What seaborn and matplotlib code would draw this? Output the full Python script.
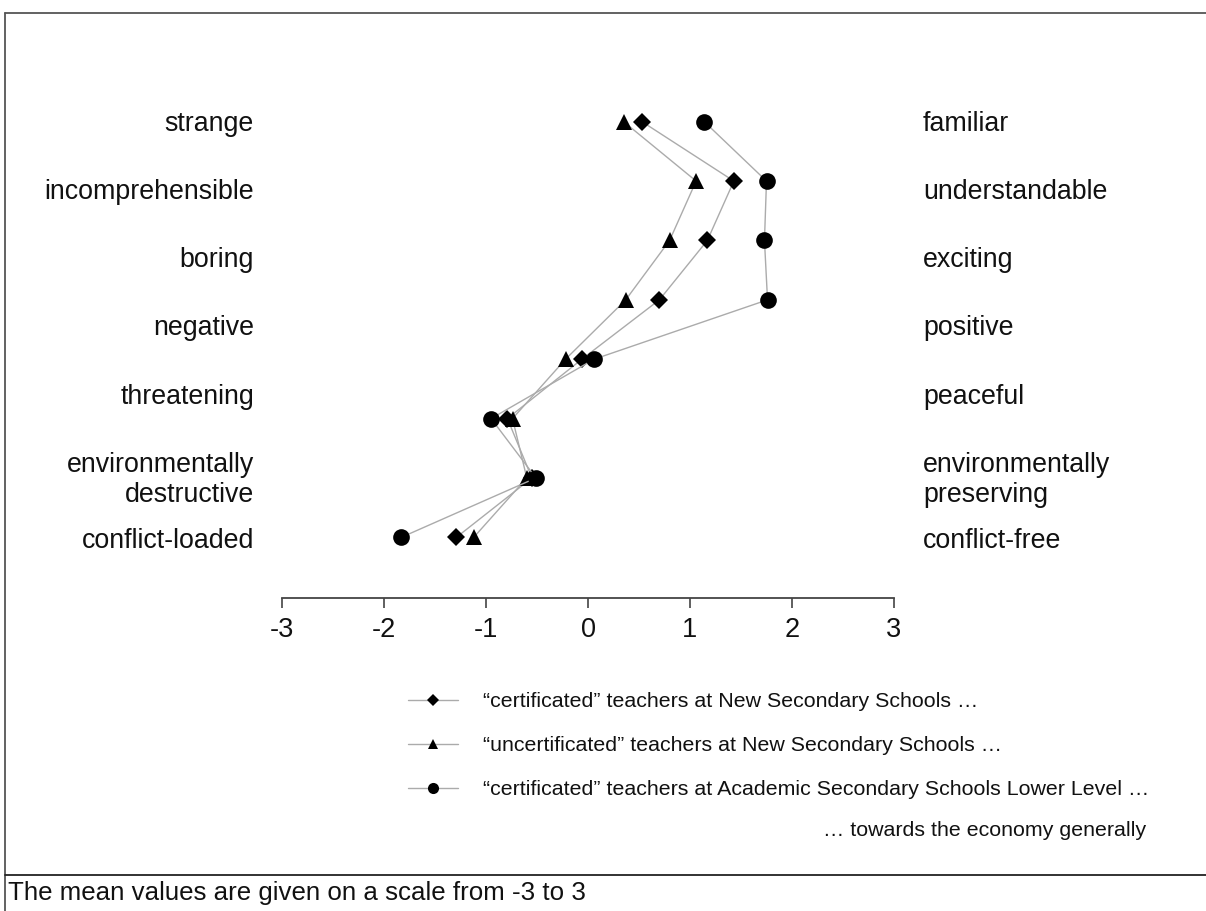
import matplotlib
matplotlib.use("Agg")
import matplotlib.pyplot as plt
from matplotlib.lines import Line2D
import seaborn as sns
import numpy as np

# ---------------- data ----------------
rows = [0, 1, 2, 3, 4, 5, 6, 7]  # 8 plotted items (top to bottom)
cert_nss = [0.53, 1.43, 1.17, 0.70, -0.06, -0.79, -0.55, -1.29]
uncert_nss = [0.35, 1.06, 0.80, 0.37, -0.22, -0.74, -0.60, -1.12]
cert_ass = [1.14, 1.75, 1.73, 1.76, 0.06, -0.95, -0.51, -1.83]

series_labels = [
    "\u201ccertificated\u201d teachers at New Secondary Schools \u2026",
    "\u201cuncertificated\u201d teachers at New Secondary Schools \u2026",
    "\u201ccertificated\u201d teachers at Academic Secondary Schools Lower Level \u2026",
]
left_labels = ["strange", "incomprehensible", "boring", "negative", "threatening",
               "environmentally\ndestructive", "conflict-loaded"]
right_labels = ["familiar", "understandable", "exciting", "positive", "peaceful",
                "environmentally\npreserving", "conflict-free"]
ticks = [-3, -2, -1, 0, 1, 2, 3]
tick_labels = ["-3", "-2", "-1", "0", "1", "2", "3"]
footer_note = "\u2026 towards the economy generally"
caption = "The mean values are given on a scale from -3 to 3"

# ---------------- style ----------------
sns.set_theme(style="white")
plt.rcParams['font.family'] = ['Liberation Sans', 'DejaVu Sans']
plt.rcParams['axes.unicode_minus'] = False

W, H = 1206, 911
fig = plt.figure(figsize=(W / 100, H / 100), dpi=100)
fig.patch.set_facecolor("white")

ax = fig.add_axes([282 / W, 1 - 598 / H, 612 / W, 508 / H])
ax.patch.set_alpha(0)

line_col = "#ababab"
specs = [(cert_nss, "D", 9.5), (uncert_nss, "^", 11.5), (cert_ass, "o", 12)]
for vals, mk, ms in specs:
    sns.lineplot(x=vals, y=rows, sort=False, estimator=None, ax=ax, legend=False,
                 color=line_col, linewidth=1.0, marker=mk, markersize=ms,
                 markerfacecolor="black", markeredgecolor="black",
                 markeredgewidth=0, clip_on=False)

ax.set_xlim(-3, 3)
ax.set_ylim(8.022, -0.534)
ax.set_xticks(ticks)
ax.set_xticklabels(tick_labels)
ax.set_yticks([])
ax.set_xlabel("")
ax.set_ylabel("")
for s in ["top", "right", "left"]:
    ax.spines[s].set_visible(False)
ax.spines["bottom"].set_color("#444444")
ax.spines["bottom"].set_linewidth(1.3)
ax.tick_params(axis="x", length=7.5, width=1.2, color="#444444",
               labelsize=19.5, pad=6, labelcolor="#111111", bottom=True)

# ---------------- pole labels ----------------
baselines = [131, 199, 267, 335, 404, 472, 548]
line_gap = 30
for lab, yb in zip(left_labels, baselines):
    for k, part in enumerate(lab.split("\n")):
        fig.text(254 / W, 1 - (yb + k * line_gap) / H, part, ha="right",
                 va="baseline", fontsize=19.3, color="#111111")
for lab, yb in zip(right_labels, baselines):
    for k, part in enumerate(lab.split("\n")):
        fig.text(923 / W, 1 - (yb + k * line_gap) / H, part, ha="left",
                 va="baseline", fontsize=19.3, color="#111111")

# ---------------- legend ----------------
handles = [
    Line2D([], [], color=line_col, lw=1.0, marker="D", markersize=6,
           markerfacecolor="black", markeredgecolor="black", markeredgewidth=0),
    Line2D([], [], color=line_col, lw=1.0, marker="^", markersize=7.5,
           markerfacecolor="black", markeredgecolor="black", markeredgewidth=0),
    Line2D([], [], color=line_col, lw=1.0, marker="o", markersize=8,
           markerfacecolor="black", markeredgecolor="black", markeredgewidth=0),
]
fig.legend(handles, series_labels, loc="upper left",
           bbox_to_anchor=(408 / W, 1 - 692 / H), frameon=False, fontsize=15.4,
           handlelength=2.35, handletextpad=1.15, labelspacing=1.18,
           borderpad=0, borderaxespad=0, labelcolor="#111111")

fig.text(1146 / W, 1 - 831 / H, footer_note, ha="right", va="center",
         fontsize=15.4, color="#111111")
fig.text(8 / W, 1 - 893 / H, caption, ha="left", va="center",
         fontsize=18.6, color="#111111")

# ---------------- frame lines ----------------
fig.add_artist(Line2D([5 / W, 5 / W], [0, 1 - 13 / H], transform=fig.transFigure,
                      color="#555555", lw=1.3))
fig.add_artist(Line2D([5 / W, 1], [1 - 13 / H, 1 - 13 / H], transform=fig.transFigure,
                      color="#555555", lw=1.3))
fig.add_artist(Line2D([5 / W, 1], [1 - 875 / H, 1 - 875 / H], transform=fig.transFigure,
                      color="#222222", lw=1.3))

fig.savefig("out.png", dpi=100)
